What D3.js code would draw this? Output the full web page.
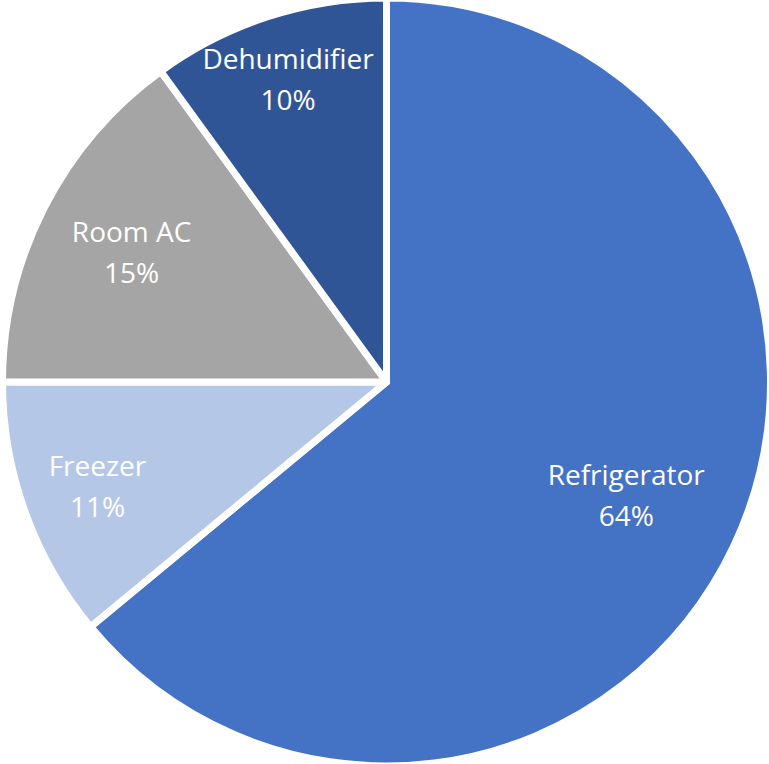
<!DOCTYPE html>
<html lang="en">
<head>
  <meta charset="UTF-8">
  <title>Appliance share</title>
  <script src="https://d3js.org/d3.v7.min.js"></script>
  <style>
    body { margin: 0; background: #fff; }
    svg { display: block; }
    .label text {
      font-family: "Open Sans", "Noto Sans", sans-serif;
      font-size: 28px;
      fill: #fff;
    }
  </style>
</head>
<body>
  <svg></svg>

  <script>
    // datos
    const categories = ["Refrigerator", "Freezer", "Room AC", "Dehumidifier"];
    const shares = [64, 11, 15, 10];
    const colors = ["#4472C4", "#B4C7E7", "#A5A5A5", "#2F5597"];

    const width = 769;
    const height = 764;
    const cx = 386.5, cy = 382;
    const radius = 384;

    // posicion radial de cada etiqueta (fraccion del radio), como lo hace Excel
    const labelPos = [0.69, 0.8, 0.745, 0.83];

    const svg = d3.select("svg")
        .attr("width", width)
        .attr("height", height);

    const data = categories.map((c, i) => ({ name: c, value: shares[i], color: colors[i], lp: labelPos[i] }));

    const pie = d3.pie()
        .sort(null)
        .value(d => d.value);

    const arc = d3.arc()
        .innerRadius(0)
        .outerRadius(radius);

    const arcs = pie(data);

    const g = svg.append("g")
        .attr("transform", `translate(${cx},${cy})`);

    g.selectAll("path")
        .data(arcs)
        .enter().append("path")
        .attr("d", arc)
        .attr("fill", d => d.data.color)
        .attr("stroke", "#fff")
        .attr("stroke-width", 7)
        .attr("stroke-linejoin", "round");

    // etiquetas
    const label = g.selectAll(".label")
        .data(arcs)
        .enter().append("g")
        .attr("class", "label")
        .attr("transform", d => {
          const r = radius * d.data.lp;
          const a = (d.startAngle + d.endAngle) / 2;
          return `translate(${Math.sin(a) * r},${-Math.cos(a) * r})`;
        });

    label.append("text")
        .attr("text-anchor", "middle")
        .attr("y", -10)
        .text(d => d.data.name);

    label.append("text")
        .attr("text-anchor", "middle")
        .attr("y", 31)
        .text(d => d.data.value + "%");
  </script>
</body>
</html>
